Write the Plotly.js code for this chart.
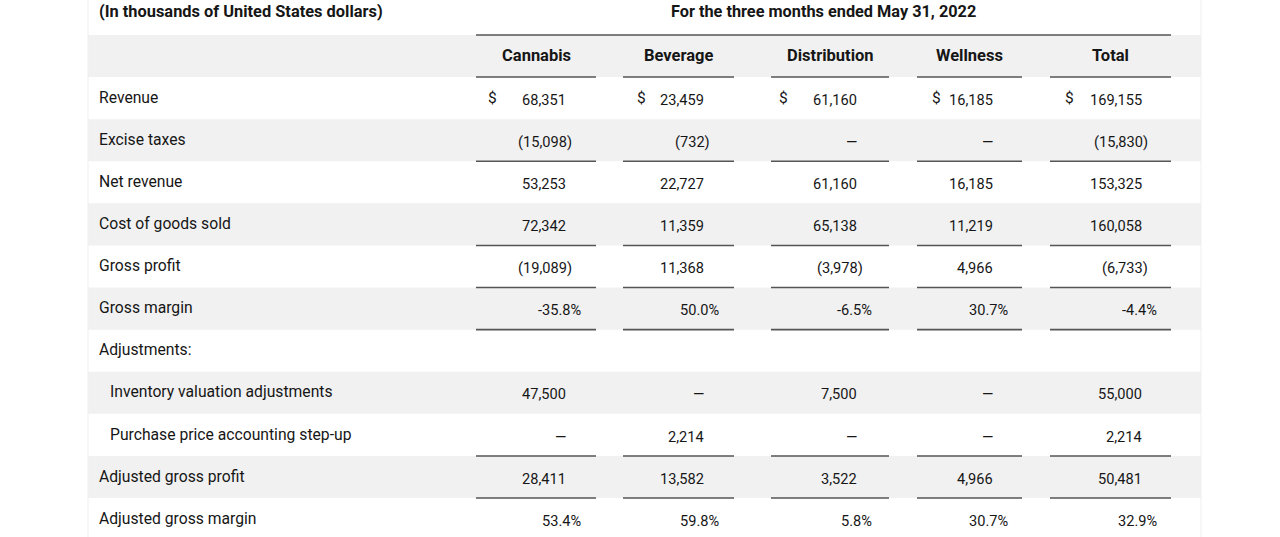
<!DOCTYPE html>
<html>
<head>
<meta charset="utf-8">
<script src="https://cdn.plot.ly/plotly-3.0.1.min.js"></script>
<style>html,body{margin:0;padding:0;background:#fff;}#chart{width:1280px;height:537px;}</style>
</head>
<body>
<div id="chart"></div>
<script>
// ---- data ----
const unitsNote = "(In thousands of United States dollars)";
const periodTitle = "For the three months ended May 31, 2022";
const segments = ["Cannabis", "Beverage", "Distribution", "Wellness", "Total"];
const rowLabels = ["Revenue", "Excise taxes", "Net revenue", "Cost of goods sold", "Gross profit",
  "Gross margin", "Adjustments:", "Inventory valuation adjustments",
  "Purchase price accounting step-up", "Adjusted gross profit", "Adjusted gross margin"];
const rowKinds = ["dollar", "amount", "amount", "amount", "amount", "percent", "blank",
  "amount", "amount", "amount", "percent"];
const cannabis     = [68351, -15098, 53253, 72342, -19089, -35.8, null, 47500, 0, 28411, 53.4];
const beverage     = [23459, -732, 22727, 11359, 11368, 50.0, null, 0, 2214, 13582, 59.8];
const distribution = [61160, 0, 61160, 65138, -3978, -6.5, null, 7500, 0, 3522, 5.8];
const wellness     = [16185, 0, 16185, 11219, 4966, 30.7, null, 0, 0, 4966, 30.7];
const total        = [169155, -15830, 153325, 160058, -6733, -4.4, null, 55000, 2214, 50481, 32.9];
const indentedRows = [false, false, false, false, false, false, false, true, true, false, false];
const underlinedRows = [false, true, false, true, true, true, false, false, true, true, false];

// ---- layout constants ----
const columns = [cannabis, beverage, distribution, wellness, total];
const colLeft  = [476, 623, 771, 917, 1050];
const colRight = [596, 734, 889, 1022, 1171];
const numRight = [568, 706, 859, 995, 1144];
const dollarX  = [486, 635, 777, 930, 1063];
const tableLeft = 88, tableRight = 1201;
const FONT = "Roboto, 'Liberation Sans', Arial, sans-serif";
const txt = "#161616";

function fmtInt(v) { return Math.abs(v).toLocaleString("en-US"); }

const annotations = [];
const shapes = [];

// faint table frame
shapes.push({type:"line", xref:"x", yref:"paper", x0:tableLeft, x1:tableLeft, y0:0, y1:1, line:{color:"#efefef", width:1}});
shapes.push({type:"line", xref:"x", yref:"paper", x0:tableRight, x1:tableRight, y0:0, y1:1, line:{color:"#efefef", width:1}});

// bands: header (row 0) and alternating data rows
const bandRows = [0];
rowLabels.forEach((_, i) => { if (i % 2 === 1) bandRows.push(i + 1); });
bandRows.forEach(r => shapes.push({type:"rect", xref:"x", yref:"y", x0:tableLeft, x1:tableRight,
  y0:r - 0.5, y1:r + 0.5, fillcolor:"#f1f1f1", line:{width:0}, layer:"below"}));

// title row
annotations.push({x:97, y:-1.06, xref:"x", yref:"y", text:"<b>" + unitsNote + "</b>", showarrow:false,
  xanchor:"left", yanchor:"middle", font:{family:FONT, size:16.4, color:txt}});
annotations.push({x:(colLeft[0] + colRight[4]) / 2, y:-1.06, xref:"x", yref:"y", text:"<b>" + periodTitle + "</b>",
  showarrow:false, xanchor:"center", yanchor:"middle", font:{family:FONT, size:16.3, color:txt}});
// header top line
shapes.push({type:"line", xref:"x", yref:"y", x0:colLeft[0], x1:colRight[4], y0:-0.5, y1:-0.5, line:{color:"#555", width:1.6}});

// segment headers + underline
segments.forEach((s, c) => {
  annotations.push({x:(colLeft[c] + colRight[c]) / 2, y:-0.02, xref:"x", yref:"y", text:"<b>" + s + "</b>",
    showarrow:false, xanchor:"center", yanchor:"middle", font:{family:FONT, size:16.5, color:txt}});
  shapes.push({type:"line", xref:"x", yref:"y", x0:colLeft[c], x1:colRight[c], y0:0.5, y1:0.5, line:{color:"#555", width:1.6}});
});

// data rows
rowLabels.forEach((lab, i) => {
  const r = i + 1;
  annotations.push({x:indentedRows[i] ? 108 : 97, y:r - 0.02, xref:"x", yref:"y", text:lab, showarrow:false,
    xanchor:"left", yanchor:"middle", font:{family:FONT, size:15.7, color:txt}});
  columns.forEach((col, c) => {
    const v = col[i];
    if (v === null || v === undefined) return;
    let text, x, anchor = "right";
    if (rowKinds[i] === "percent") {
      text = v.toFixed(1) + "%"; x = numRight[c] + 15;
    } else if (v === 0) {
      text = "—"; x = numRight[c] - 8; anchor = "center";
    } else if (v < 0) {
      text = "(" + fmtInt(v) + ")"; x = numRight[c] + 6;
    } else {
      text = fmtInt(v); x = numRight[c];
    }
    annotations.push({x:x, y:r + 0.04, xref:"x", yref:"y", text:text, showarrow:false,
      xanchor:anchor, yanchor:"middle", font:{family:FONT, size:14.6, color:txt}});
    if (rowKinds[i] === "dollar") {
      annotations.push({x:dollarX[c], y:r, xref:"x", yref:"y", text:"$", showarrow:false,
        xanchor:"left", yanchor:"middle", font:{family:FONT, size:15.5, color:txt}});
    }
    if (underlinedRows[i]) {
      shapes.push({type:"line", xref:"x", yref:"y", x0:colLeft[c], x1:colRight[c], y0:r + 0.5, y1:r + 0.5,
        line:{color:"#555", width:1.6}});
    }
  });
});

// y mapping: row r center at pixel 56 + 42.1*r
const rowH = 42.1, row0 = 56;
const layout = {
  width:1280, height:537,
  margin:{l:0, r:0, t:0, b:0, pad:0},
  paper_bgcolor:"#ffffff", plot_bgcolor:"#ffffff",
  showlegend:false,
  xaxis:{range:[0, 1280], visible:false, fixedrange:true},
  yaxis:{range:[(537 - row0) / rowH, -row0 / rowH], visible:false, fixedrange:true},
  shapes:shapes, annotations:annotations
};
Plotly.newPlot("chart", [{x:[], y:[], type:"scatter", mode:"markers", hoverinfo:"skip"}], layout, {staticPlot:true, displayModeBar:false});
</script>
</body>
</html>
